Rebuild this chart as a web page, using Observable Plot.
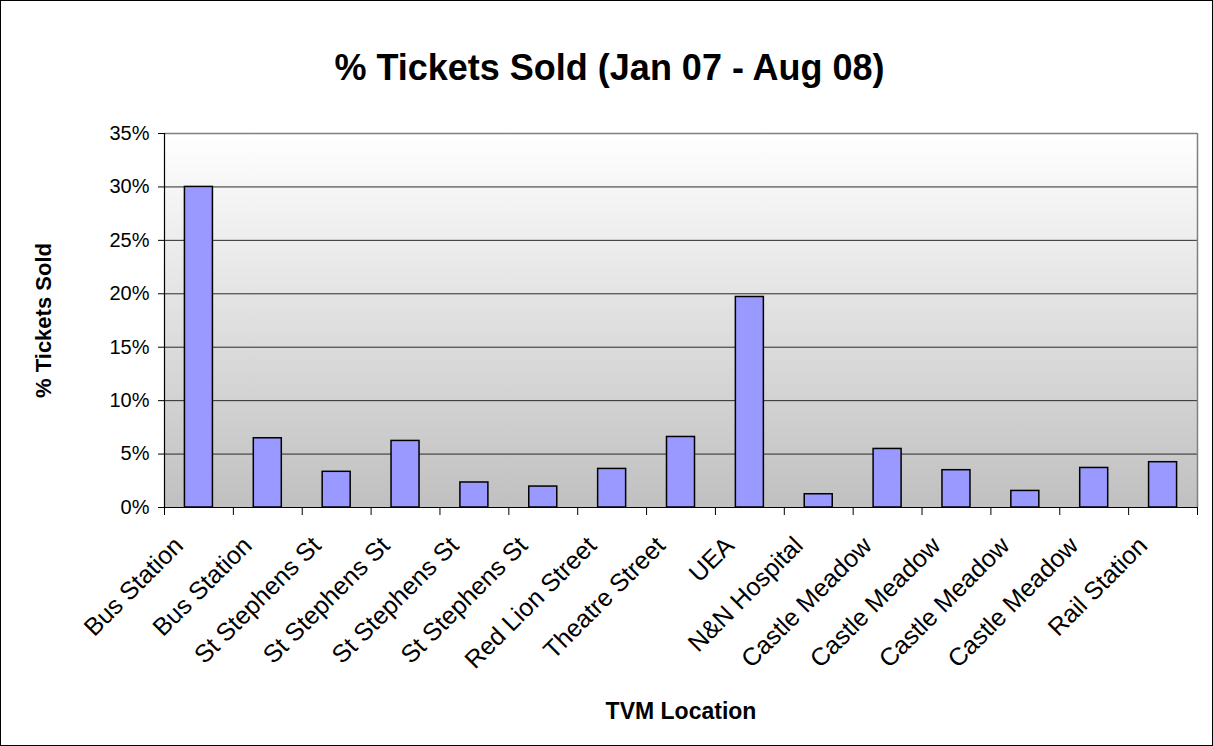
<!DOCTYPE html>
<html>
<head>
<meta charset="utf-8">
<script src="https://cdn.jsdelivr.net/npm/d3@7"></script>
<script src="https://cdn.jsdelivr.net/npm/@observablehq/plot@0.6"></script>
<style>
  html, body { margin: 0; padding: 0; background: #fff; }
  #chart svg { display: block; }
</style>
</head>
<body>
<div id="chart"></div>
<script>
const title = "% Tickets Sold (Jan 07 - Aug 08)";
const yLabel = "% Tickets Sold";
const xLabel = "TVM Location";
const categories = ["Bus Station", "Bus Station", "St Stephens St", "St Stephens St", "St Stephens St", "St Stephens St", "Red Lion Street", "Theatre Street", "UEA", "N&N Hospital", "Castle Meadow", "Castle Meadow", "Castle Meadow", "Castle Meadow", "Rail Station"];
const values = [30.0, 6.48, 3.34, 6.23, 2.34, 1.96, 3.61, 6.6, 19.7, 1.24, 5.48, 3.49, 1.55, 3.7, 4.24];
const yTicks = [0, 5, 10, 15, 20, 25, 30, 35];

const rows = categories.map((label, i) => ({i, label, value: values[i]}));

const W = 1211, H = 744;
const mL = 163, mR = 15, mT = 132, mB = 238;
const bw = (W - mL - mR) / categories.length;
const barW = 28;
const inset = (bw - barW) / 2;
const font = "'Liberation Sans', Arial, sans-serif";

const chart = Plot.plot({
  width: W,
  height: H,
  marginLeft: mL,
  marginRight: mR,
  marginTop: mT,
  marginBottom: mB,
  style: {fontFamily: font, background: "#fff", border: "1px solid #000", color: "#000"},
  x: {type: "band", domain: d3.range(categories.length), padding: 0, round: false, axis: null},
  y: {domain: [0, 35], axis: null},
  marks: [
    Plot.frame({fill: "url(#bgGrad)", stroke: null}),
    Plot.ruleY(yTicks, {stroke: "#2a2a2a", strokeWidth: 1}),
    Plot.ruleY([35], {stroke: "#808080", strokeWidth: 1.5}),
    Plot.ruleX(rows.slice(-1), {x: "i", dx: bw / 2, stroke: "#808080", strokeWidth: 1.5}),
    Plot.barY(rows, {x: "i", y: "value", fill: "#9999ff", stroke: "#000", strokeWidth: 1.5, insetLeft: inset, insetRight: inset}),
    Plot.ruleY([0], {stroke: "#000", strokeWidth: 1.2}),
    Plot.ruleX(rows.slice(0, 1), {x: "i", dx: -bw / 2, stroke: "#000", strokeWidth: 1.2}),
    // x ticks at band boundaries
    Plot.ruleX(rows, {x: "i", dx: -bw / 2, y1: 0, y2: 0, insetBottom: -8, stroke: "#000"}),
    Plot.ruleX(rows.slice(-1), {x: "i", dx: bw / 2, y1: 0, y2: 0, insetBottom: -8, stroke: "#000"}),
    // y axis ticks + labels
    Plot.axisY(yTicks, {tickSize: 6, tickPadding: 9, tickFormat: d => d + "%", fontSize: 20, label: null, stroke: "#000"}),
    // category labels
    Plot.text(rows, {x: "i", text: "label", frameAnchor: "bottom", lineAnchor: "middle", textAnchor: "end", rotate: -45, dx: -20, dy: 34, fontSize: 25, fill: "#000"}),
    // titles
    Plot.text([title], {frameAnchor: "top", lineAnchor: "middle", textAnchor: "middle", dx: -71.5, dy: -65, fontSize: 36, fontWeight: "bold", fill: "#000"}),
    Plot.text([yLabel], {frameAnchor: "left", lineAnchor: "middle", textAnchor: "middle", rotate: -90, dx: -121, fontSize: 22, fontWeight: "bold", fill: "#000"}),
    Plot.text([xLabel], {frameAnchor: "bottom", lineAnchor: "middle", textAnchor: "middle", dy: 204, fontSize: 23, fontWeight: "bold", fill: "#000"})
  ]
});

d3.select(chart).insert("defs", ":first-child").html(
  '<linearGradient id="bgGrad" x1="0" y1="0" x2="0" y2="1">' +
  '<stop offset="0" stop-color="#ffffff"/>' +
  '<stop offset="1" stop-color="#c0c0c0"/>' +
  '</linearGradient>'
);

document.getElementById("chart").appendChild(chart);
</script>
</body>
</html>
